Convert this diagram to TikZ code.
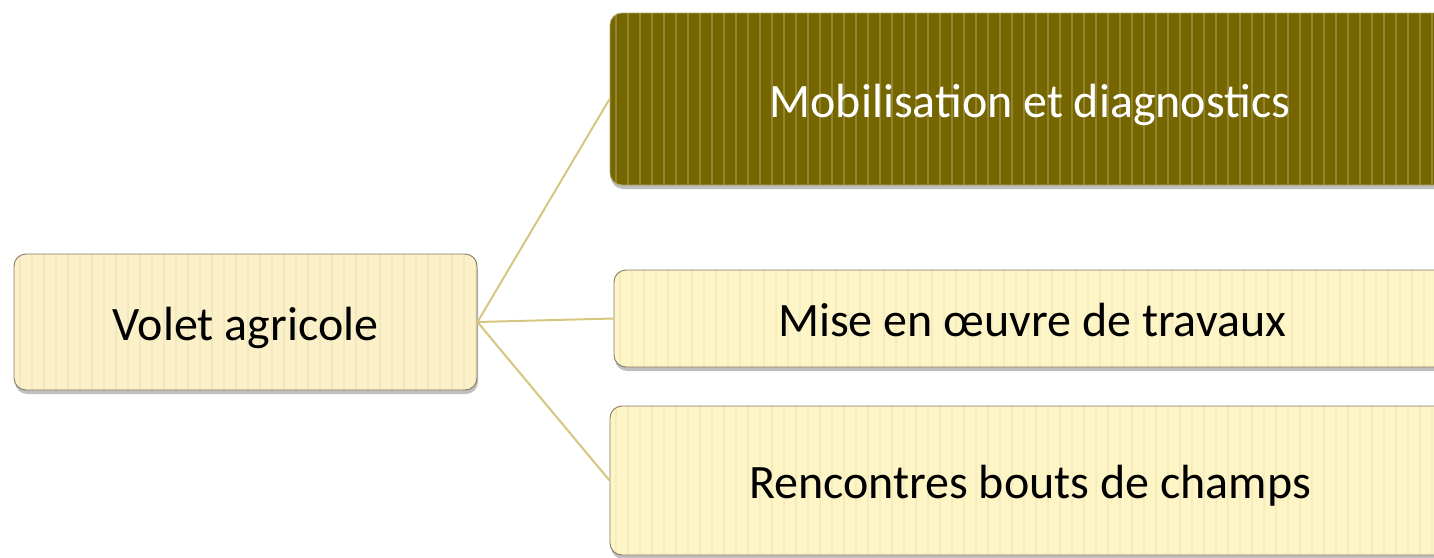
\documentclass[tikz,border=0pt]{standalone}
\usepackage{fontspec}
\setmainfont{Carlito}
\usetikzlibrary{shadows}
\definecolor{paleFill}{HTML}{FBF0C8}
\definecolor{creamFill}{HTML}{FEF5C6}
\definecolor{oliveFill}{HTML}{766600}
\definecolor{boxLine}{HTML}{857B62}
\definecolor{linkLine}{HTML}{D6C680}
\tikzset{
  stripes/.style={path picture={
      \foreach \i in {0,...,72}
        \draw[#1,line width=1.2pt]
          ([xshift=\i*12pt+6pt]path picture bounding box.south west) --
          ([xshift=\i*12pt+6pt]path picture bounding box.north west);}},
  card/.style={draw=boxLine,line width=0.9pt,rounded corners=12pt,
    drop shadow={shadow xshift=1pt,shadow yshift=-4pt,opacity=0.5},
    font=\fontsize{48}{52}\selectfont,text height=36pt,text depth=0pt,
    inner sep=0pt},
  light/.style={card,fill=#1,stripes=black!4!#1},
  dark/.style={card,fill=oliveFill,draw=oliveFill!60!white,text=white,
    stripes=oliveFill!80!white}
}
\begin{document}
\begin{tikzpicture}[x=1pt,y=-1pt]
  \useasboundingbox (0,0) rectangle (1434,557);
  \clip (0,0) rectangle (1434,557);
  \node[light=paleFill,minimum width=463pt,minimum height=136pt] (volet) at (245.5,322) {Volet agricole};
  \node[dark,minimum width=840pt,minimum height=172pt] (mob) at (1030,99) {Mobilisation et diagnostics};
  \node[light=creamFill,minimum width=836pt,minimum height=97pt] (mise) at (1032,318.5) {Mise en œuvre de travaux};
  \node[light=creamFill,minimum width=840pt,minimum height=149pt] (renc) at (1030,480.5) {Rencontres bouts de champs};
  \begin{scope}[draw=linkLine,line width=2pt]
    \draw (volet.east) to (mob.west);
    \draw (volet.east) to (mise.west);
    \draw (volet.east) to (renc.west);
  \end{scope}
\end{tikzpicture}
\end{document}
